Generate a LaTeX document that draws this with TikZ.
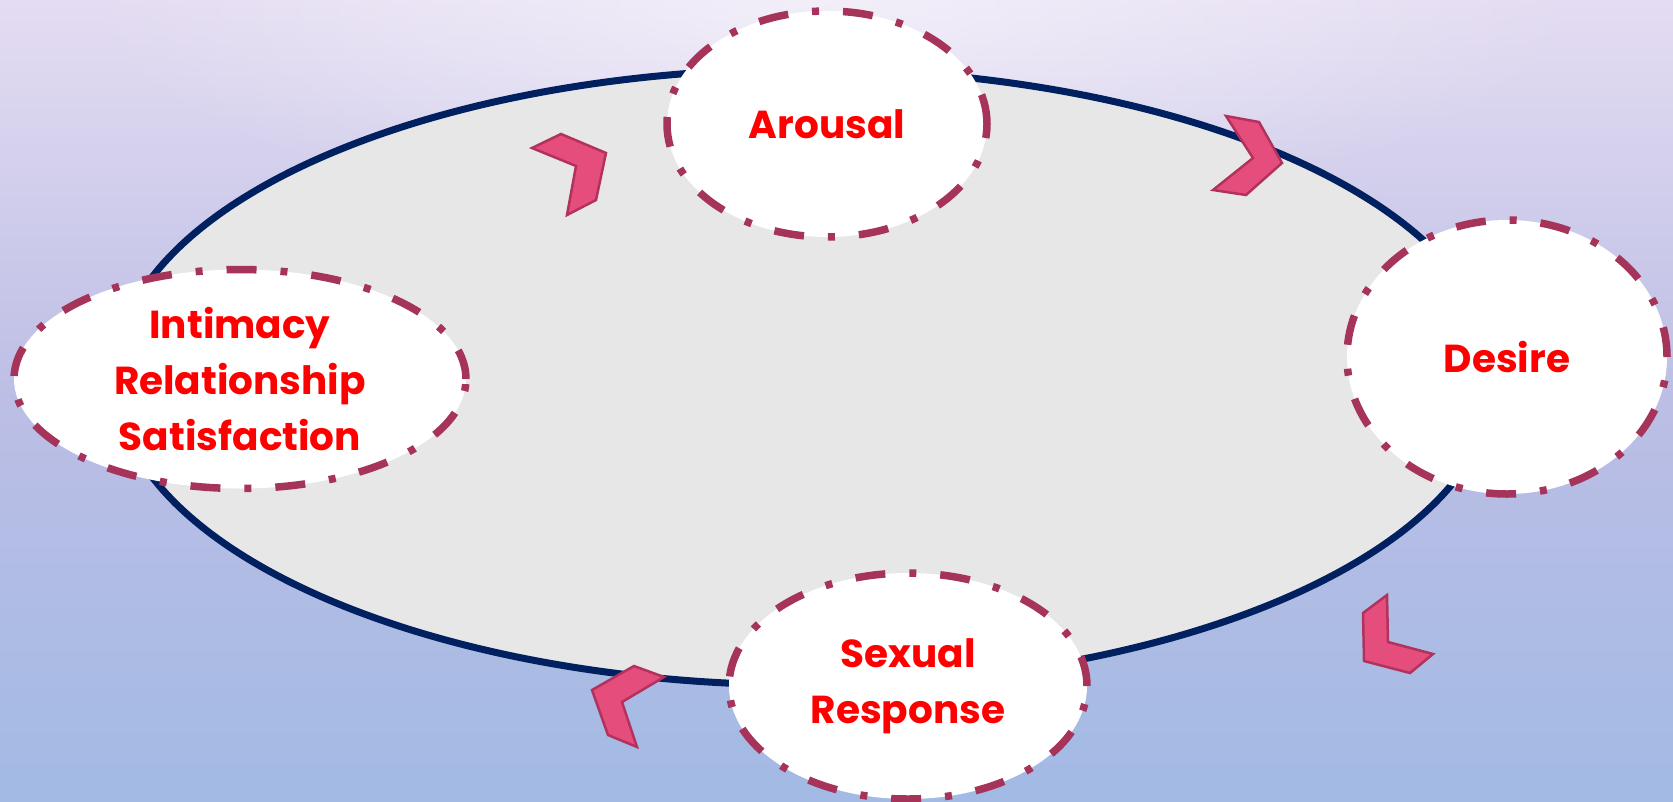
\documentclass[tikz,border=0pt]{standalone}
\usepackage{fontspec}
\setmainfont{Poppins}
\usetikzlibrary{shapes.geometric,fadings}
\definecolor{bgtop}{RGB}{228,220,242}
\definecolor{bgmid}{RGB}{188,190,229}
\definecolor{bgbot}{RGB}{162,186,228}
\definecolor{rimnavy}{RGB}{0,32,96}
\definecolor{platefill}{RGB}{231,231,231}
\definecolor{ovalrim}{RGB}{166,52,90}
\definecolor{chevfill}{RGB}{229,77,125}
\definecolor{chevrim}{RGB}{178,50,92}
\definecolor{labelred}{RGB}{255,0,0}
\tikzfading[name=topglow, inner color=transparent!0, outer color=transparent!100]
\tikzset{
  oval/.style={ellipse, draw=ovalrim, fill=white, line width=7.5pt,
    dash pattern=on 30pt off 24pt on 7pt off 24pt, inner sep=0pt,
    text=labelred, align=center,
    font=\fontsize{39}{56}\selectfont\bfseries},
  chev/.style={fill=chevfill, draw=chevrim, line width=2.5pt, line join=miter}
}
\begin{document}
\begin{tikzpicture}[x=1pt,y=-1pt]
\useasboundingbox (0,0) rectangle (1673,801);
% background
\shade[top color=bgtop, bottom color=bgbot, middle color=bgmid] (0,0) rectangle (1673,801);
\fill[white, opacity=0.55, path fading=topglow] (830,0) ellipse [x radius=760pt, y radius=230pt];
% plate
\draw[fill=platefill, draw=rimnavy, line width=7pt] (805,377) ellipse [x radius=690pt, y radius=308pt];
% chevrons
\draw[chev] (532,148) -- (561,134) -- (606,153) -- (596,200) -- (567,215) -- (576,166) -- cycle;
\draw[chev] (1226,116) -- (1259,122) -- (1282,163) -- (1246,195) -- (1213,190) -- (1253,158) -- cycle;
\draw[chev] (1387,595) -- (1363,613) -- (1364,661) -- (1410,673) -- (1433,654) -- (1388,642) -- cycle;
\draw[chev] (634,666) -- (664,677) -- (622,702) -- (637,747) -- (608,735) -- (592,690) -- cycle;
% ovals
\node[oval, minimum width=320pt, minimum height=226pt] (arousal) at (827,124) {Arousal};
\node[oval, minimum width=320pt, minimum height=274pt] (desire) at (1507,357) {Desire};
\node[oval, minimum width=358pt, minimum height=226pt] (sexual) at (908,686) {Sexual\\Response};
\node[oval, minimum width=452pt, minimum height=219pt] (intimacy) at (240,379) {Intimacy\\Relationship\\Satisfaction};
\end{tikzpicture}
\end{document}
